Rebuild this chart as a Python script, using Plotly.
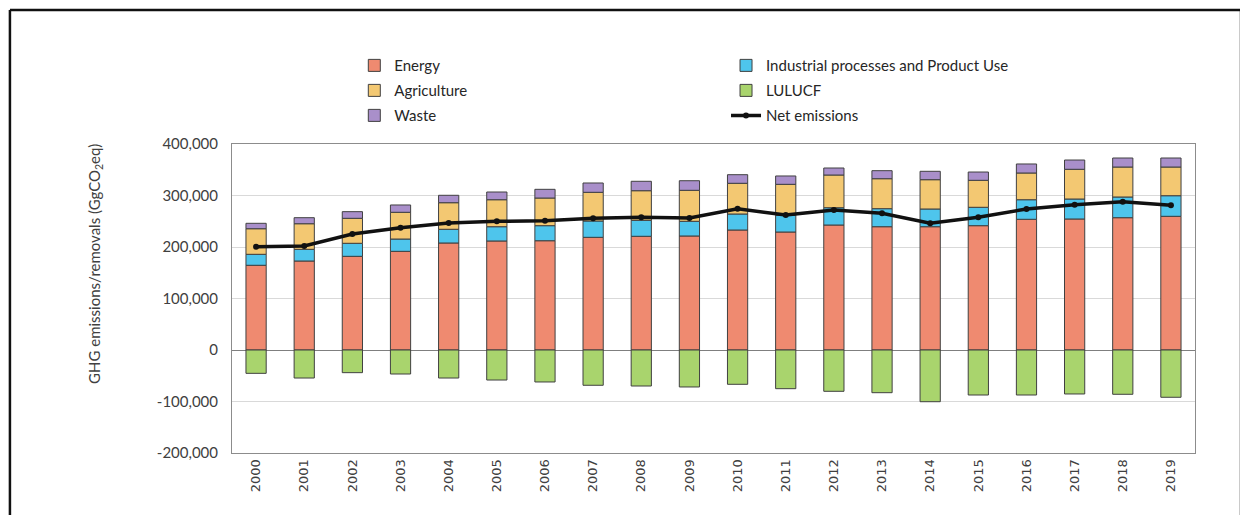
import plotly.graph_objects as go

years = [str(y) for y in range(2000, 2020)]

energy = [164500, 172800, 181900, 191600, 207800, 211700, 212200, 218800, 220800, 221400,
          233000, 229100, 242700, 239400, 239400, 241400, 253800, 254400, 256900, 259600]
ippu = [21300, 22700, 25300, 23900, 26600, 27700, 29200, 31700, 31000, 28500,
        31100, 32500, 33600, 35000, 34400, 35700, 38000, 38800, 40200, 40000]
agriculture = [49700, 49700, 48500, 51900, 51600, 52400, 53700, 55700, 57500, 60200,
               59600, 60100, 63500, 58200, 56900, 52400, 51900, 57700, 58200, 55700]
waste = [10500, 11700, 12900, 14200, 14400, 15000, 16900, 18100, 18300, 18600,
         16700, 16200, 13600, 15600, 16300, 16100, 17500, 18000, 17500, 17500]
lulucf = [-45300, -54400, -44000, -46600, -54400, -58300, -62100, -68500, -69900, -71800,
          -66600, -75100, -80200, -82900, -100400, -87400, -87400, -85400, -86000, -91800]
net = [200600, 202000, 225200, 237500, 246600, 249900, 251100, 255700, 257700, 256300,
       274400, 262100, 271800, 265400, 246000, 257700, 273800, 282100, 288000, 281000]

ytick_vals = [-200000, -100000, 0, 100000, 200000, 300000, 400000]
ytick_text = ["-200,000", "-100,000", "0", "100,000", "200,000", "300,000", "400,000"]

outline = dict(color="#404040", width=1)
font_main = "Lato, 'Open Sans', sans-serif"

fig = go.Figure()
fig.add_bar(x=years, y=energy, name="Energy", marker=dict(color="#EF8A70", line=outline),
            legend="legend", legendgroup="e")
fig.add_bar(x=years, y=ippu, name="Industrial processes and Product Use",
            marker=dict(color="#4EC5EC", line=outline), legend="legend2", legendgroup="i")
fig.add_bar(x=years, y=agriculture, name="Agriculture", marker=dict(color="#F3C872", line=outline),
            legend="legend", legendgroup="a")
fig.add_bar(x=years, y=waste, name="Waste", marker=dict(color="#A98FCA", line=outline),
            legend="legend", legendgroup="w")
fig.add_bar(x=years, y=lulucf, name="LULUCF", marker=dict(color="#A9D46D", line=outline),
            legend="legend2", legendgroup="l")
fig.add_scatter(x=years, y=net, name="Net emissions", mode="lines+markers",
                line=dict(color="#111111", width=3.5), marker=dict(color="#111111", size=6),
                legend="legend2", legendgroup="n")

legend_common = dict(
    orientation="v", xanchor="left", yanchor="top", y=1.307,
    font=dict(family=font_main, size=15, color="#262626"),
    bgcolor="rgba(0,0,0,0)", traceorder="grouped", tracegroupgap=2.5,
    itemwidth=30,
)

# page body has an 8px margin: figure is drawn 8px right/down, so size is reduced to fit
fig.update_layout(
    width=1240, height=507,
    margin=dict(l=224, r=53, t=136, b=62, autoexpand=False),
    paper_bgcolor="white", plot_bgcolor="white",
    barmode="relative", bargap=0.58,
    font=dict(family=font_main, size=15, color="#404040"),
    legend=dict(x=0.127, **legend_common),
    legend2=dict(x=0.513, **legend_common),
    xaxis=dict(
        type="category", range=[-0.5, 19.5], tickangle=-90, automargin=False,
        tickfont=dict(family="DejaVu Sans", size=13, color="#404040"),
        showline=True, linecolor="#8C8C8C", linewidth=1, mirror=True,
        ticks="", showgrid=False,
    ),
    yaxis=dict(
        range=[-200000, 400000], tickvals=ytick_vals, ticktext=ytick_text, automargin=False,
        tickfont=dict(family=font_main, size=15, color="#404040"), ticklabelstandoff=10,
        showgrid=True, gridcolor="#D9D9D9", gridwidth=1,
        zeroline=True, zerolinecolor="#7F7F7F", zerolinewidth=1,
        showline=True, linecolor="#8C8C8C", linewidth=1, mirror=True, ticks="",
    ),
    annotations=[
        dict(text="GHG emissions/removals (GgCO<sub>2</sub>eq)", textangle=-90,
             xref="paper", yref="paper", x=(87 - 224) / 963, y=(445 - 256) / 309,
             xanchor="center", yanchor="middle", showarrow=False,
             font=dict(family=font_main, size=15, color="#404040")),
    ],
    shapes=[
        dict(type="line", xref="paper", yref="paper", x0=-0.2306, x1=-0.2306, y0=1.434, y1=-0.25,
             line=dict(color="#111111", width=2.5)),
        dict(type="line", xref="paper", yref="paper", x0=-0.2306, x1=1.0478, y0=1.434, y1=1.434,
             line=dict(color="#111111", width=2.5)),
        dict(type="line", xref="paper", yref="paper", x0=1.0478, x1=1.0478, y0=1.434, y1=-0.25,
             line=dict(color="#111111", width=2.5)),
    ],
)

fig.write_html("out.html")
